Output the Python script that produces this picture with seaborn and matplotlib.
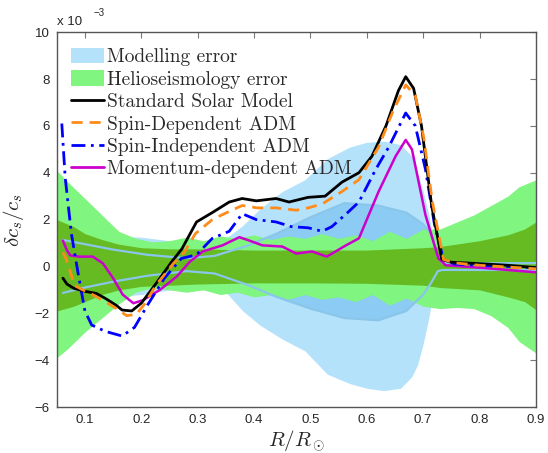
import numpy as np
import pandas as pd
import matplotlib
matplotlib.use("Agg")
import matplotlib.pyplot as plt
import seaborn as sns
from matplotlib.patches import Patch
from matplotlib.lines import Line2D

# ── data (units of 1e-3) ──────────────────────────────────────────────────────
ssm_x = [0.061, 0.068, 0.08, 0.1, 0.12, 0.136, 0.155, 0.166, 0.183, 0.2, 0.224,
         0.254, 0.272, 0.298, 0.326, 0.356, 0.379, 0.404, 0.439, 0.462, 0.496,
         0.526, 0.556, 0.586, 0.609, 0.634, 0.656, 0.669, 0.683, 0.697, 0.715,
         0.733, 0.75, 0.8, 0.85, 0.9]
ssm_y = [-0.5, -0.75, -0.93, -1.06, -1.15, -1.36, -1.65, -1.86, -1.9, -1.57, -0.8,
         0.2, 0.75, 1.9, 2.3, 2.75, 2.9, 2.8, 2.9, 2.75, 2.95,
         3.0, 3.6, 4.0, 4.7, 6.0, 7.5, 8.1, 7.6, 6.0, 2.6,
         0.3, 0.18, 0.12, 0.05, -0.05]

sd_x = [0.061, 0.067, 0.075, 0.081, 0.096, 0.106, 0.136, 0.156, 0.174, 0.191,
        0.206, 0.226, 0.256, 0.276, 0.296, 0.326, 0.356, 0.379, 0.406, 0.439,
        0.475, 0.496, 0.521, 0.556, 0.586, 0.621, 0.646, 0.669, 0.686, 0.701,
        0.716, 0.736, 0.756, 0.8, 0.9]
sd_y = [0.6, 0.3, -0.3, -0.8, -1.0, -1.1, -1.5, -1.8, -2.1, -2.05,
        -1.6, -0.8, 0.1, 0.6, 1.4, 2.0, 2.35, 2.6, 2.5, 2.5,
        2.4, 2.5, 2.67, 3.2, 3.7, 5.1, 6.6, 7.75, 7.3, 5.5,
        2.8, 0.3, 0.15, 0.05, -0.1]

si_x = [0.059, 0.065, 0.076, 0.088, 0.1, 0.112, 0.136, 0.166, 0.188, 0.211,
        0.241, 0.271, 0.298, 0.326, 0.356, 0.379, 0.404, 0.439, 0.466, 0.496,
        0.521, 0.538, 0.566, 0.586, 0.616, 0.639, 0.669, 0.686, 0.704, 0.72,
        0.736, 0.756, 0.8, 0.9]
si_y = [6.1, 3.8, 1.4, -0.3, -1.9, -2.5, -2.77, -2.97, -2.6, -1.65,
        -0.5, 0.34, 0.5, 1.2, 1.5, 2.25, 2.0, 1.9, 1.7, 1.65,
        1.5, 1.7, 2.3, 2.75, 4.15, 5.1, 6.55, 6.0, 4.15, 1.8,
        0.3, 0.1, 0.05, -0.05]

md_x = [0.061, 0.068, 0.074, 0.089, 0.102, 0.114, 0.132, 0.15, 0.167, 0.186,
        0.203, 0.233, 0.263, 0.286, 0.309, 0.344, 0.374, 0.392, 0.415, 0.45,
        0.475, 0.503, 0.529, 0.563, 0.586, 0.621, 0.651, 0.669, 0.68, 0.704,
        0.727, 0.74, 0.8, 0.85, 0.9]
md_y = [1.1, 0.7, 0.47, 0.42, 0.42, 0.42, 0.13, -0.5, -1.2, -1.57,
        -1.44, -1.0, -0.43, 0.2, 0.64, 0.9, 1.25, 1.1, 0.9, 0.85,
        0.55, 0.64, 0.42, 0.9, 1.2, 3.2, 4.7, 5.4, 5.0, 2.2,
        0.34, 0.05, -0.05, -0.15, -0.25]

# modelling error, outer (light blue)
mod_x  = [0.05, 0.1, 0.15, 0.2, 0.25, 0.3, 0.35, 0.38, 0.41, 0.45, 0.49, 0.53,
          0.57, 0.6, 0.63, 0.66, 0.68, 0.69, 0.70, 0.71, 0.72, 0.73, 0.76, 0.9]
mod_hi = [1.5, 1.4, 1.3, 1.25, 1.1, 1.0, 1.2, 1.75, 2.45, 3.2, 3.7, 4.6,
          5.1, 5.3, 5.35, 5.2, 4.7, 4.0, 3.2, 2.2, 0.9, 0.2, 0.15, 0.15]
mod_lo = [-1.5, -1.4, -1.3, -1.2, -1.0, -0.9, -1.1, -1.9, -2.5, -3.1, -3.6, -4.6,
          -5.0, -5.2, -5.3, -5.2, -4.7, -4.2, -3.3, -2.2, -0.8, -0.1, -0.1, -0.1]

# modelling error, inner (medium blue)
modi_x  = [0.061, 0.1, 0.15, 0.21, 0.28, 0.33, 0.39, 0.44, 0.5, 0.56, 0.62,
           0.67, 0.70, 0.714, 0.726, 0.734, 0.76, 0.9]
modi_hi = [1.13, 0.95, 0.72, 0.5, 0.35, 0.45, 0.9, 1.4, 2.1, 2.7, 2.6,
           2.3, 1.8, 1.4, 0.4, 0.14, 0.14, 0.14]
modi_lo = [-1.13, -0.9, -0.65, -0.4, -0.2, -0.3, -0.8, -1.3, -1.8, -2.2, -2.3,
           -1.9, -1.2, -0.7, -0.2, -0.15, -0.15, -0.15]

# helioseismology error, outer (light green)
hel_x  = [0.05, 0.07, 0.1, 0.13, 0.16, 0.19, 0.22, 0.25, 0.28, 0.31, 0.34, 0.37,
          0.40, 0.43, 0.46, 0.49, 0.52, 0.55, 0.58, 0.61, 0.64, 0.67, 0.70, 0.73,
          0.76, 0.79, 0.82, 0.85, 0.87, 0.9]
hel_hi = [4.1, 3.6, 2.9, 2.2, 1.5, 1.2, 1.05, 1.1, 1.25, 1.1, 1.3, 1.2,
          1.35, 1.15, 1.3, 1.2, 1.4, 1.2, 1.35, 1.1, 1.5, 1.2, 1.6, 1.6,
          1.9, 2.2, 2.6, 3.0, 3.4, 3.7]
hel_lo = [-3.9, -3.5, -2.8, -2.2, -1.6, -1.1, -0.9, -1.0, -1.1, -1.0, -1.2, -1.1,
          -1.3, -1.2, -1.4, -1.2, -1.4, -1.3, -1.5, -1.2, -1.65, -1.35, -1.7, -1.8,
          -1.75, -1.8, -2.1, -2.6, -3.2, -3.7]

# helioseismology error, inner (dark green)
heli_x  = [0.05, 0.08, 0.1, 0.13, 0.16, 0.2, 0.25, 0.3, 0.4, 0.5, 0.6, 0.7,
           0.73, 0.8, 0.85, 0.88, 0.9]
heli_hi = [2.0, 1.7, 1.4, 1.15, 0.95, 0.8, 0.75, 0.75, 0.7, 0.7, 0.7, 0.8,
           0.85, 1.1, 1.35, 1.6, 1.9]
heli_lo = [-1.9, -1.7, -1.5, -1.2, -1.0, -0.85, -0.8, -0.75, -0.7, -0.7, -0.72, -0.8,
           -0.9, -1.0, -1.3, -1.5, -1.85]

x_ticks = [0.1, 0.2, 0.3, 0.4, 0.5, 0.6, 0.7, 0.8, 0.9]
y_ticks = [-6, -4, -2, 0, 2, 4, 6, 8, 10]

# ── style ─────────────────────────────────────────────────────────────────────
sns.set_theme(style="white")
plt.rcParams.update({
    "font.family": ["Liberation Sans", "DejaVu Sans"],
    "mathtext.fontset": "cm",
    "axes.edgecolor": "#555555",
    "axes.linewidth": 1.0,
})

LIGHT_BLUE = "#b5e2fb"
MID_BLUE   = "#8ccbf3"
EDGE_BLUE  = "#8ac6ea"
LIGHT_GRN  = "#80f580"
DARK_GRN   = "#66bb22"
ORANGE     = "#ff8c1a"
SI_BLUE    = "#0000ff"
MAGENTA    = "#cc00cc"
DASH       = (0, (4, 2.5))
DASHDOT    = (0, (5, 2, 1, 2))

fig = plt.figure(figsize=(5.48, 4.53), dpi=100)
ax = fig.add_axes([0.1035, 0.1015, 0.8745, 0.8275])

# bands
ax.fill_between(mod_x, mod_lo, mod_hi, color=LIGHT_BLUE, lw=0, zorder=1)
ax.fill_between(modi_x, modi_lo, modi_hi, color=MID_BLUE, lw=0, zorder=1.5)
ax.fill_between(hel_x, hel_lo, hel_hi, color=LIGHT_GRN, lw=0, zorder=2)
ax.fill_between(heli_x, heli_lo, heli_hi, color=DARK_GRN, lw=0, zorder=2.5)
sns.lineplot(x=modi_x, y=modi_hi, ax=ax, color=EDGE_BLUE, lw=1.6, zorder=3,
             estimator=None, sort=False)
sns.lineplot(x=modi_x, y=modi_lo, ax=ax, color=EDGE_BLUE, lw=1.6, zorder=3,
             estimator=None, sort=False)

# model curves
sns.lineplot(x=md_x, y=md_y, ax=ax, color=MAGENTA, lw=1.8, zorder=4,
             estimator=None, sort=False)
sns.lineplot(x=si_x, y=si_y, ax=ax, color=SI_BLUE, lw=2.0, zorder=5,
             estimator=None, sort=False, linestyle=DASHDOT)
sns.lineplot(x=ssm_x, y=ssm_y, ax=ax, color="black", lw=2.0, zorder=6,
             estimator=None, sort=False)
sns.lineplot(x=sd_x, y=sd_y, ax=ax, color=ORANGE, lw=2.0, zorder=7,
             estimator=None, sort=False, linestyle=DASH)

ax.set_xlim(0.05, 0.9)
ax.set_ylim(-6, 10)
ax.set_xticks(x_ticks)
ax.set_xticklabels([f"{v:.1f}" for v in x_ticks])
ax.set_yticks(y_ticks)
ax.set_yticklabels([str(v).replace("-", "\u2212") for v in y_ticks])
ax.tick_params(direction="in", length=4, width=0.8, color="#777777",
               top=True, right=True, labelsize=9.5, pad=5)

ax.set_xlabel(r"$R/R_\odot$", fontsize=15, labelpad=2)
ax.set_ylabel(r"$\delta c_s/c_s$", fontsize=15, labelpad=6)

ax.text(0.0, 1.012, "x 10", transform=ax.transAxes, ha="left", va="bottom",
        fontsize=9.5)
ax.text(0.077, 1.038, "\u22123", transform=ax.transAxes, ha="left", va="bottom",
        fontsize=7)

handles = [
    Patch(facecolor=LIGHT_BLUE, edgecolor="none", label="Modelling error"),
    Patch(facecolor=LIGHT_GRN, edgecolor="none", label="Helioseismology error"),
    Line2D([], [], color="black", lw=2, label="Standard Solar Model"),
    Line2D([], [], color=ORANGE, lw=2, linestyle=DASH, label="Spin-Dependent ADM"),
    Line2D([], [], color=SI_BLUE, lw=2, linestyle=DASHDOT,
           label="Spin-Independent ADM"),
    Line2D([], [], color=MAGENTA, lw=2, label="Momentum-dependent ADM"),
]
leg = ax.legend(handles=handles, loc="upper left", bbox_to_anchor=(0.03, 0.958),
                frameon=False, borderpad=0, borderaxespad=0,
                prop={"family": "cmr10", "size": 14},
                handlelength=1.7, handleheight=0.85, handletextpad=0.15,
                labelspacing=0.2)
for t in leg.get_texts():
    t.set_color("#2a2a2a")

fig.savefig("out.png", dpi=100)
